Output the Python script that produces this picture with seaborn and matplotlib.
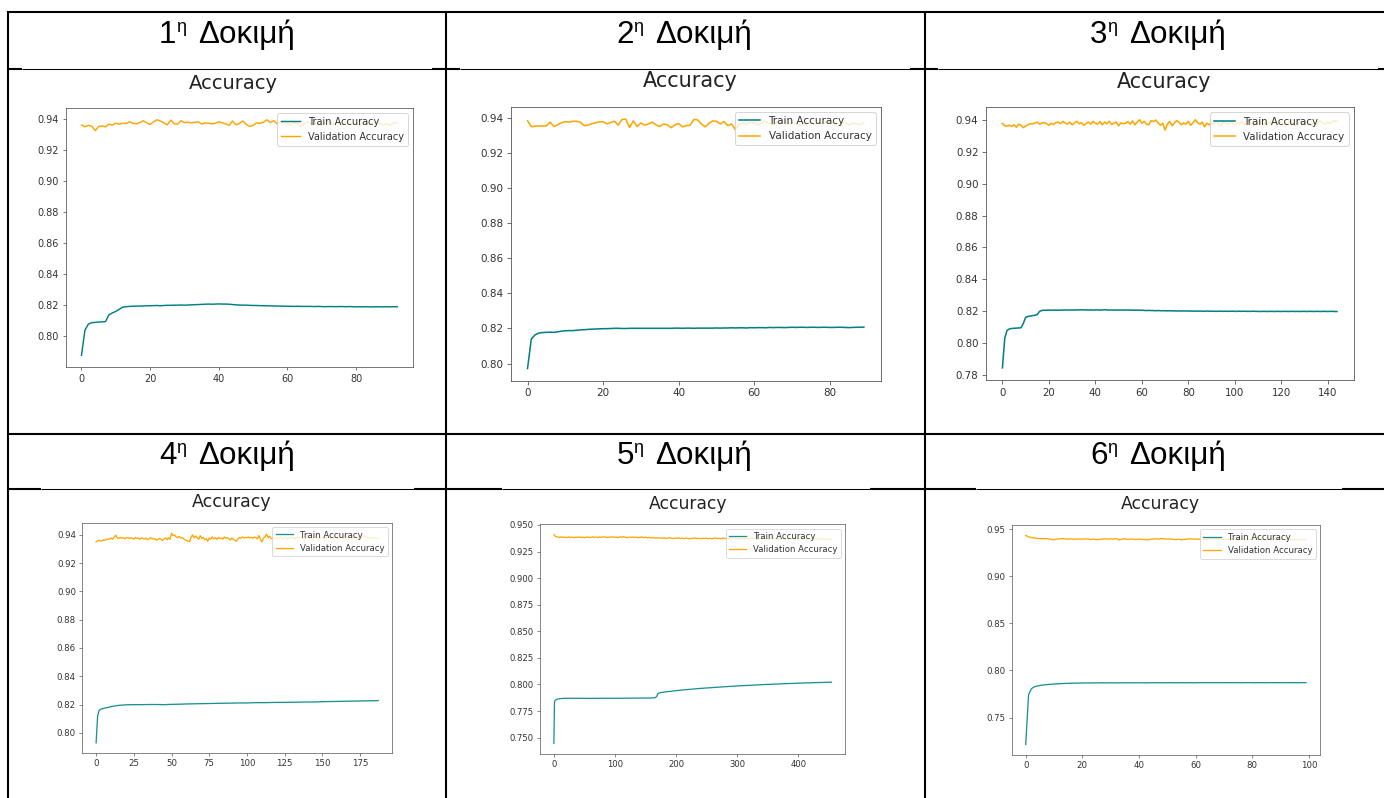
import numpy as np
import matplotlib
matplotlib.use("Agg")
import matplotlib.pyplot as plt
import seaborn as sns

# ---- text ----
trial_nums = ["1", "2", "3", "4", "5", "6"]
trial_sup = "η"
trial_word = "Δοκιμή"
plot_title = "Accuracy"
legend_labels = ["Train Accuracy", "Validation Accuracy"]

# ---- data ----
train_1 = [
    0.7879, 0.8040, 0.8080, 0.8089, 0.8091, 0.8093, 0.8094, 0.8096, 0.8140, 0.8152,
    0.8162, 0.8175, 0.8189, 0.8192, 0.8194, 0.8195, 0.8196, 0.8196, 0.8197, 0.8198,
    0.8198, 0.8199, 0.8200, 0.8198, 0.8200, 0.8201, 0.8201, 0.8202, 0.8202, 0.8203,
    0.8202, 0.8203, 0.8204, 0.8205, 0.8206, 0.8207, 0.8208, 0.8209, 0.8208, 0.8209,
    0.8210, 0.8209, 0.8209, 0.8208, 0.8206, 0.8204, 0.8203, 0.8202, 0.8202, 0.8201,
    0.8200, 0.8200, 0.8199, 0.8198, 0.8198, 0.8197, 0.8197, 0.8196, 0.8196, 0.8195,
    0.8195, 0.8195, 0.8194, 0.8195, 0.8194, 0.8194, 0.8194, 0.8194, 0.8193, 0.8194,
    0.8193, 0.8192, 0.8193, 0.8193, 0.8192, 0.8193, 0.8193, 0.8192, 0.8193, 0.8192,
    0.8191, 0.8192, 0.8191, 0.8192, 0.8191, 0.8191, 0.8192, 0.8191, 0.8191, 0.8192,
    0.8191, 0.8192, 0.8192]
val_1 = [
    0.9364, 0.9353, 0.9362, 0.9357, 0.9328, 0.9355, 0.9358, 0.9352, 0.9370, 0.9364,
    0.9376, 0.9370, 0.9375, 0.9374, 0.9385, 0.9375, 0.9372, 0.9380, 0.9392, 0.9378,
    0.9368, 0.9385, 0.9398, 0.9390, 0.9378, 0.9365, 0.9396, 0.9372, 0.9370, 0.9392,
    0.9380, 0.9382, 0.9378, 0.9381, 0.9385, 0.9370, 0.9378, 0.9376, 0.9372, 0.9375,
    0.9385, 0.9378, 0.9372, 0.9362, 0.9390, 0.9366, 0.9374, 0.9390, 0.9368, 0.9355,
    0.9362, 0.9378, 0.9375, 0.9382, 0.9398, 0.9380, 0.9392, 0.9372, 0.9380, 0.9388,
    0.9375, 0.9365, 0.9380, 0.9372, 0.9355, 0.9378, 0.9384, 0.9368, 0.9372, 0.9380,
    0.9362, 0.9378, 0.9385, 0.9372, 0.9365, 0.9380, 0.9370, 0.9384, 0.9375, 0.9372,
    0.9386, 0.9360, 0.9378, 0.9382, 0.9370, 0.9376, 0.9385, 0.9372, 0.9365, 0.9372,
    0.9362, 0.9380, 0.9378]

train_2 = [
    0.7972, 0.8140, 0.8164, 0.8174, 0.8177, 0.8178, 0.8179, 0.8178, 0.8181, 0.8185,
    0.8187, 0.8188, 0.8188, 0.8190, 0.8192, 0.8193, 0.8195, 0.8196, 0.8197, 0.8198,
    0.8199, 0.8199, 0.8200, 0.8201, 0.8201, 0.8200, 0.8200, 0.8201, 0.8201, 0.8201,
    0.8201, 0.8201, 0.8201, 0.8201, 0.8201, 0.8201, 0.8201, 0.8201, 0.8201, 0.8202,
    0.8202, 0.8201, 0.8202, 0.8202, 0.8201, 0.8202, 0.8202, 0.8202, 0.8202, 0.8202,
    0.8203, 0.8202, 0.8203, 0.8203, 0.8204, 0.8203, 0.8204, 0.8204, 0.8203, 0.8205,
    0.8204, 0.8205, 0.8205, 0.8204, 0.8206, 0.8205, 0.8206, 0.8206, 0.8205, 0.8206,
    0.8207, 0.8206, 0.8207, 0.8207, 0.8206, 0.8207, 0.8207, 0.8206, 0.8207, 0.8207,
    0.8206, 0.8206, 0.8207, 0.8207, 0.8206, 0.8205, 0.8206, 0.8207, 0.8207, 0.8208]
val_2 = [
    0.9383, 0.9349, 0.9352, 0.9353, 0.9353, 0.9354, 0.9375, 0.9350, 0.9360, 0.9372,
    0.9378, 0.9375, 0.9380, 0.9380, 0.9375, 0.9355, 0.9358, 0.9366, 0.9372, 0.9376,
    0.9378, 0.9365, 0.9373, 0.9380, 0.9358, 0.9390, 0.9392, 0.9345, 0.9382, 0.9350,
    0.9370, 0.9358, 0.9365, 0.9375, 0.9360, 0.9350, 0.9364, 0.9360, 0.9343, 0.9360,
    0.9367, 0.9348, 0.9355, 0.9357, 0.9390, 0.9388, 0.9365, 0.9348, 0.9368, 0.9382,
    0.9380, 0.9365, 0.9378, 0.9355, 0.9365, 0.9332, 0.9365, 0.9370, 0.9362, 0.9375,
    0.9368, 0.9360, 0.9372, 0.9380, 0.9366, 0.9358, 0.9375, 0.9370, 0.9380, 0.9362,
    0.9374, 0.9368, 0.9355, 0.9370, 0.9365, 0.9378, 0.9360, 0.9372, 0.9366, 0.9378,
    0.9380, 0.9365, 0.9352, 0.9368, 0.9375, 0.9358, 0.9370, 0.9365, 0.9362, 0.9372]

train_3 = [
    0.7846, 0.8033, 0.8081, 0.8090, 0.8093, 0.8094, 0.8095, 0.8096, 0.8097, 0.8125,
    0.8163, 0.8168, 0.8171, 0.8173, 0.8176, 0.8180, 0.8200, 0.8206, 0.8207, 0.8207,
    0.8208, 0.8207, 0.8208, 0.8208, 0.8207, 0.8208, 0.8208, 0.8209, 0.8208, 0.8208,
    0.8209, 0.8208, 0.8209, 0.8209, 0.8210, 0.8209, 0.8209, 0.8208, 0.8209, 0.8208,
    0.8209, 0.8209, 0.8208, 0.8209, 0.8210, 0.8209, 0.8208, 0.8209, 0.8208, 0.8208,
    0.8208, 0.8208, 0.8209, 0.8208, 0.8208, 0.8208, 0.8208, 0.8207, 0.8208, 0.8207,
    0.8207, 0.8206, 0.8205, 0.8206, 0.8205, 0.8205, 0.8204, 0.8205, 0.8204, 0.8204,
    0.8204, 0.8203, 0.8204, 0.8203, 0.8203, 0.8202, 0.8203, 0.8202, 0.8203, 0.8202,
    0.8202, 0.8202, 0.8201, 0.8202, 0.8201, 0.8202, 0.8201, 0.8201, 0.8202, 0.8201,
    0.8201, 0.8201, 0.8200, 0.8201, 0.8201, 0.8200, 0.8201, 0.8200, 0.8201, 0.8201,
    0.8200, 0.8200, 0.8201, 0.8200, 0.8201, 0.8200, 0.8200, 0.8200, 0.8201, 0.8200,
    0.8200, 0.8199, 0.8200, 0.8200, 0.8199, 0.8200, 0.8200, 0.8199, 0.8200, 0.8200,
    0.8199, 0.8200, 0.8200, 0.8199, 0.8200, 0.8200, 0.8199, 0.8200, 0.8199, 0.8200,
    0.8200, 0.8199, 0.8200, 0.8200, 0.8199, 0.8200, 0.8200, 0.8199, 0.8200, 0.8200,
    0.8199, 0.8200, 0.8200, 0.8199, 0.8199]
val_3 = [
    0.9377, 0.9362, 0.9360, 0.9366, 0.9358, 0.9368, 0.9352, 0.9372, 0.9365, 0.9350,
    0.9360, 0.9368, 0.9375, 0.9374, 0.9378, 0.9385, 0.9372, 0.9380, 0.9382, 0.9375,
    0.9365, 0.9378, 0.9370, 0.9382, 0.9385, 0.9375, 0.9390, 0.9380, 0.9372, 0.9385,
    0.9368, 0.9380, 0.9390, 0.9375, 0.9382, 0.9365, 0.9375, 0.9385, 0.9372, 0.9390,
    0.9378, 0.9372, 0.9388, 0.9368, 0.9385, 0.9375, 0.9390, 0.9370, 0.9378, 0.9385,
    0.9362, 0.9380, 0.9375, 0.9378, 0.9388, 0.9372, 0.9392, 0.9368, 0.9385, 0.9400,
    0.9378, 0.9390, 0.9372, 0.9368, 0.9395, 0.9388, 0.9398, 0.9380, 0.9365, 0.9378,
    0.9335, 0.9372, 0.9390, 0.9362, 0.9378, 0.9395, 0.9385, 0.9368, 0.9380, 0.9372,
    0.9390, 0.9365, 0.9380, 0.9400, 0.9382, 0.9372, 0.9385, 0.9355, 0.9378, 0.9368,
    0.9385, 0.9370, 0.9392, 0.9375, 0.9362, 0.9388, 0.9380, 0.9370, 0.9392, 0.9376,
    0.9368, 0.9385, 0.9372, 0.9390, 0.9365, 0.9380, 0.9394, 0.9372, 0.9360, 0.9385,
    0.9378, 0.9390, 0.9370, 0.9382, 0.9365, 0.9388, 0.9375, 0.9392, 0.9370, 0.9380,
    0.9386, 0.9372, 0.9362, 0.9385, 0.9390, 0.9375, 0.9360, 0.9382, 0.9392, 0.9378,
    0.9368, 0.9388, 0.9375, 0.9362, 0.9380, 0.9372, 0.9386, 0.9392, 0.9380, 0.9372,
    0.9385, 0.9378, 0.9390, 0.9392, 0.9390]

train_4_epochs = [0, 1, 2, 3, 4, 5, 6, 8, 10, 12, 15, 20, 25, 30, 35, 40, 45, 50, 55, 60,
                  65, 70, 75, 80, 85, 90, 95, 100, 105, 110, 115, 120, 125, 130, 135,
                  140, 145, 150, 155, 160, 165, 170, 175, 180, 185, 187]
train_4 = [0.7929, 0.8118, 0.8158, 0.8166, 0.8170, 0.8173, 0.8175, 0.8180, 0.8185, 0.8189,
           0.8194, 0.8198, 0.8199, 0.8199, 0.8200, 0.8200, 0.8199, 0.8201, 0.8202, 0.8204,
           0.8205, 0.8206, 0.8207, 0.8208, 0.8209, 0.8210, 0.8211, 0.8211, 0.8213, 0.8213,
           0.8214, 0.8215, 0.8215, 0.8216, 0.8217, 0.8218, 0.8218, 0.8220, 0.8221, 0.8222,
           0.8223, 0.8224, 0.8225, 0.8226, 0.8227, 0.8228]
val_4 = [
    0.9351, 0.9358, 0.9362, 0.9355, 0.9360, 0.9365, 0.9362, 0.9370, 0.9368, 0.9372,
    0.9378, 0.9370, 0.9385, 0.9398, 0.9380, 0.9375, 0.9382, 0.9376, 0.9380, 0.9372,
    0.9378, 0.9382, 0.9374, 0.9380, 0.9376, 0.9370, 0.9382, 0.9375, 0.9378, 0.9368,
    0.9380, 0.9374, 0.9370, 0.9378, 0.9365, 0.9372, 0.9380, 0.9376, 0.9370, 0.9374,
    0.9362, 0.9368, 0.9375, 0.9370, 0.9360, 0.9372, 0.9378, 0.9365, 0.9380, 0.9368,
    0.9412, 0.9395, 0.9400, 0.9385, 0.9380, 0.9390, 0.9378, 0.9382, 0.9372, 0.9365,
    0.9360, 0.9355, 0.9352, 0.9385, 0.9400, 0.9378, 0.9392, 0.9380, 0.9368, 0.9395,
    0.9375, 0.9382, 0.9365, 0.9372, 0.9355, 0.9378, 0.9370, 0.9385, 0.9372, 0.9380,
    0.9368, 0.9382, 0.9375, 0.9378, 0.9370, 0.9385, 0.9376, 0.9380, 0.9372, 0.9365,
    0.9378, 0.9370, 0.9362, 0.9355, 0.9372, 0.9382, 0.9376, 0.9385, 0.9378, 0.9382,
    0.9380, 0.9385, 0.9378, 0.9382, 0.9376, 0.9384, 0.9380, 0.9372, 0.9395, 0.9368,
    0.9350, 0.9378, 0.9385, 0.9405, 0.9380, 0.9392, 0.9375, 0.9370, 0.9382, 0.9376,
    0.9380, 0.9372, 0.9385, 0.9378, 0.9370, 0.9382, 0.9376, 0.9368, 0.9380, 0.9385,
    0.9375, 0.9382, 0.9370, 0.9378, 0.9386, 0.9372, 0.9380, 0.9376, 0.9365, 0.9380,
    0.9385, 0.9378, 0.9372, 0.9382, 0.9376, 0.9388, 0.9375, 0.9370, 0.9380, 0.9384,
    0.9376, 0.9382, 0.9372, 0.9380, 0.9386, 0.9375, 0.9368, 0.9380, 0.9385, 0.9378,
    0.9372, 0.9382, 0.9376, 0.9380, 0.9370, 0.9378, 0.9386, 0.9375, 0.9380, 0.9372,
    0.9378, 0.9384, 0.9376, 0.9370, 0.9380, 0.9372, 0.9385, 0.9390, 0.9395, 0.9385,
    0.9380, 0.9372, 0.9378, 0.9375, 0.9382, 0.9378, 0.9372, 0.9378]

train_5_epochs = [0, 1, 2, 3, 5, 8, 12, 20, 40, 60, 80, 100, 120, 140, 160, 165, 168, 170,
                  172, 175, 180, 190, 200, 220, 240, 260, 280, 300, 320, 340, 360, 380,
                  400, 420, 440, 454]
train_5 = [0.7447, 0.7838, 0.7848, 0.7853, 0.7860, 0.7865, 0.7868, 0.7870, 0.7870, 0.7869,
           0.7870, 0.7870, 0.7871, 0.7872, 0.7873, 0.7875, 0.7885, 0.7912, 0.7920, 0.7924,
           0.7928, 0.7935, 0.7942, 0.7953, 0.7963, 0.7971, 0.7979, 0.7986, 0.7992, 0.7998,
           0.8003, 0.8008, 0.8012, 0.8016, 0.8019, 0.8022]
val_5_every = 3  # validation read every 3rd epoch
val_5 = [
    0.9408, 0.9390, 0.9386, 0.9383, 0.9388, 0.9384, 0.9386, 0.9381, 0.9387, 0.9383,
    0.9385, 0.9380, 0.9386, 0.9383, 0.9388, 0.9382, 0.9385, 0.9380, 0.9387, 0.9384,
    0.9382, 0.9388, 0.9384, 0.9386, 0.9381, 0.9387, 0.9383, 0.9389, 0.9385, 0.9382,
    0.9386, 0.9384, 0.9389, 0.9383, 0.9386, 0.9381, 0.9388, 0.9385, 0.9390, 0.9384,
    0.9380, 0.9386, 0.9383, 0.9387, 0.9382, 0.9385, 0.9380, 0.9384, 0.9387, 0.9381,
    0.9385, 0.9379, 0.9383, 0.9378, 0.9382, 0.9376, 0.9380, 0.9375, 0.9379, 0.9374,
    0.9378, 0.9373, 0.9377, 0.9380, 0.9375, 0.9372, 0.9377, 0.9374, 0.9379, 0.9373,
    0.9376, 0.9371, 0.9378, 0.9374, 0.9369, 0.9376, 0.9373, 0.9378, 0.9372, 0.9375,
    0.9370, 0.9376, 0.9373, 0.9377, 0.9371, 0.9375, 0.9369, 0.9374, 0.9378, 0.9372,
    0.9375, 0.9370, 0.9376, 0.9373, 0.9371, 0.9376, 0.9372, 0.9375, 0.9370, 0.9374,
    0.9371, 0.9375, 0.9369, 0.9373, 0.9370, 0.9374, 0.9368, 0.9372, 0.9375, 0.9370,
    0.9373, 0.9368, 0.9372, 0.9370, 0.9374, 0.9369, 0.9372, 0.9367, 0.9371, 0.9374,
    0.9369, 0.9372, 0.9367, 0.9371, 0.9368, 0.9373, 0.9370, 0.9366, 0.9371, 0.9368,
    0.9372, 0.9367, 0.9370, 0.9365, 0.9369, 0.9372, 0.9367, 0.9370, 0.9366, 0.9369,
    0.9365, 0.9369, 0.9366, 0.9370, 0.9364, 0.9368, 0.9365, 0.9369, 0.9366, 0.9363,
    0.9367, 0.9364]

train_6 = [
    0.7213, 0.7741, 0.7805, 0.7826, 0.7834, 0.7840, 0.7845, 0.7848, 0.7851, 0.7853,
    0.7856, 0.7858, 0.7859, 0.7861, 0.7862, 0.7863, 0.7864, 0.7865, 0.7865, 0.7866,
    0.7866, 0.7867, 0.7867, 0.7867, 0.7868, 0.7867, 0.7868, 0.7869, 0.7868, 0.7868,
    0.7869, 0.7868, 0.7869, 0.7868, 0.7869, 0.7869, 0.7868, 0.7869, 0.7869, 0.7869,
    0.7869, 0.7869, 0.7868, 0.7869, 0.7869, 0.7869, 0.7870, 0.7869, 0.7869, 0.7869,
    0.7869, 0.7870, 0.7869, 0.7869, 0.7869, 0.7870, 0.7869, 0.7869, 0.7870, 0.7869,
    0.7869, 0.7870, 0.7870, 0.7869, 0.7870, 0.7870, 0.7869, 0.7870, 0.7870, 0.7869,
    0.7870, 0.7870, 0.7870, 0.7869, 0.7870, 0.7870, 0.7869, 0.7870, 0.7870, 0.7870,
    0.7870, 0.7869, 0.7870, 0.7870, 0.7870, 0.7869, 0.7870, 0.7870, 0.7870, 0.7870,
    0.7870, 0.7869, 0.7870, 0.7870, 0.7870, 0.7870, 0.7869, 0.7870, 0.7870, 0.7871]
val_6 = [
    0.9433, 0.9418, 0.9411, 0.9405, 0.9402, 0.9400, 0.9398, 0.9400, 0.9397, 0.9392,
    0.9386, 0.9396, 0.9398, 0.9400, 0.9396, 0.9394, 0.9398, 0.9392, 0.9396, 0.9395,
    0.9393, 0.9397, 0.9395, 0.9390, 0.9394, 0.9388, 0.9390, 0.9395, 0.9398, 0.9394,
    0.9397, 0.9395, 0.9399, 0.9386, 0.9394, 0.9396, 0.9392, 0.9395, 0.9393, 0.9390,
    0.9394, 0.9392, 0.9388, 0.9386, 0.9392, 0.9396, 0.9398, 0.9395, 0.9400, 0.9397,
    0.9394, 0.9396, 0.9392, 0.9389, 0.9393, 0.9386, 0.9392, 0.9395, 0.9397, 0.9394,
    0.9396, 0.9392, 0.9397, 0.9394, 0.9390, 0.9395, 0.9398, 0.9393, 0.9396, 0.9391,
    0.9394, 0.9397, 0.9392, 0.9395, 0.9390, 0.9394, 0.9396, 0.9392, 0.9395, 0.9390,
    0.9393, 0.9396, 0.9391, 0.9394, 0.9390, 0.9392, 0.9395, 0.9389, 0.9393, 0.9391,
    0.9394, 0.9390, 0.9393, 0.9388, 0.9392, 0.9390, 0.9386, 0.9390, 0.9388, 0.9390]

# ticks shown on each panel
xticks = [[0, 20, 40, 60, 80], [0, 20, 40, 60, 80], [0, 20, 40, 60, 80, 100, 120, 140],
          [0, 25, 50, 75, 100, 125, 150, 175], [0, 100, 200, 300, 400],
          [0, 20, 40, 60, 80, 100]]
yticks = [[0.80, 0.82, 0.84, 0.86, 0.88, 0.90, 0.92, 0.94],
          [0.80, 0.82, 0.84, 0.86, 0.88, 0.90, 0.92, 0.94],
          [0.78, 0.80, 0.82, 0.84, 0.86, 0.88, 0.90, 0.92, 0.94],
          [0.80, 0.82, 0.84, 0.86, 0.88, 0.90, 0.92, 0.94],
          [0.750, 0.775, 0.800, 0.825, 0.850, 0.875, 0.900, 0.925, 0.950],
          [0.75, 0.80, 0.85, 0.90, 0.95]]

series = [
    (list(range(len(train_1))), train_1, list(range(len(val_1))), val_1),
    (list(range(len(train_2))), train_2, list(range(len(val_2))), val_2),
    (list(range(len(train_3))), train_3, list(range(len(val_3))), val_3),
    (train_4_epochs, train_4, list(range(len(val_4))), val_4),
    (train_5_epochs, train_5, list(range(0, val_5_every * len(val_5), val_5_every)), val_5),
    (list(range(len(train_6))), train_6, list(range(len(val_6))), val_6),
]

# ---- layout (pixels) ----
W, H = 1384, 798
# axes box of each screenshot: left, top, right, bottom
panel_rects = [(65.7, 108, 413, 367), (510.7, 106.7, 880.7, 381), (985.7, 107.3, 1353.7, 380.3),
               (82, 522.7, 392.3, 753.3), (540, 524.3, 845.3, 753.7), (1011.7, 525, 1320, 755)]
train_colors = ["#008080", "#008080", "#008080", "#1a9090", "#1a9090", "#1a9090"]
header_centers = [227.5, 685, 1158.5]
header_baselines = [43.3, 464]
col_lines = [8, 446, 925]

fig = plt.figure(figsize=(W / 100, H / 100), dpi=100)


def fx(px):
    return px / W


def fy(py):
    return 1 - py / H


# table lines and headers on an overlay
over = fig.add_axes([0, 0, 1, 1])
over.set_xlim(0, W)
over.set_ylim(H, 0)
over.axis("off")
thick, thin = 1.5, 0.75
over.plot([7, W], [12, 12], color="black", lw=thick, solid_capstyle="butt")
over.plot([7, W], [434, 434], color="black", lw=thick, solid_capstyle="butt")
for x in col_lines:
    over.plot([x, x], [11, H], color="black", lw=thick, solid_capstyle="butt")
# header bottom lines: partly covered by the pasted images
covered = {69: [(21.7, 431.7), (460, 910), (938, 1378)],
           489: [(40.7, 414), (501.7, 870), (976, 1341.7)]}
for y, spans in covered.items():
    edges = [8] + [v for sp in spans for v in sp] + [W]
    for a, b in zip(edges[0::2], edges[1::2]):
        over.plot([a, b], [y, y], color="black", lw=thick, solid_capstyle="butt")
    for a, b in spans:
        over.plot([a, b], [y, y], color="black", lw=thin, solid_capstyle="butt")

hfam = ["Liberation Sans", "DejaVu Sans"]
for i, num in enumerate(trial_nums):
    c = header_centers[i % 3]
    base = header_baselines[i // 3]
    over.text(c - 68.5, base, num, fontsize=22.6, family=hfam, ha="left", va="baseline")
    over.text(c - 51.5, base - 11, trial_sup, fontsize=13, family=hfam, ha="left", va="baseline")
    over.text(c - 29.5, base, trial_word, fontsize=22.6, family=hfam, ha="left", va="baseline")

# the six accuracy plots
for i, (rect, (tx, ty, vx, vy)) in enumerate(zip(panel_rects, series)):
    left, top, right, bottom = rect
    s = (right - left) / 496.0
    ax = fig.add_axes([fx(left), fy(bottom), fx(right - left), (bottom - top) / H])
    sns.lineplot(x=tx, y=ty, color=train_colors[i], lw=1.5 * s, label=legend_labels[0], ax=ax)
    sns.lineplot(x=vx, y=vy, color="orange", lw=1.5 * s, label=legend_labels[1], ax=ax)
    ax.set_xticks(xticks[i])
    ax.set_yticks(yticks[i])
    ax.set_xlabel("")
    ax.set_ylabel("")
    ax.tick_params(labelsize=10 * s, length=3.5 * s, width=0.8 * s, pad=3.5 * s,
                   colors="#555555", labelcolor="#333333")
    for sp in ax.spines.values():
        sp.set_linewidth(0.8 * s)
        sp.set_color("#555555")
    leg = ax.legend(loc="upper right", fontsize=10 * s, framealpha=0.8)
    leg.get_frame().set_linewidth(1.0 * s)
    for t in leg.get_texts():
        t.set_color("#333333")
    fig_left = left - 80 * s
    fig_top = top - 57.6 * s
    fig.text(fx(fig_left + 320 * s), fy(fig_top + 9.6 * s), plot_title,
             ha="center", va="top", fontsize=20 * s, color="#222222")

fig.savefig("out.png", dpi=100)
